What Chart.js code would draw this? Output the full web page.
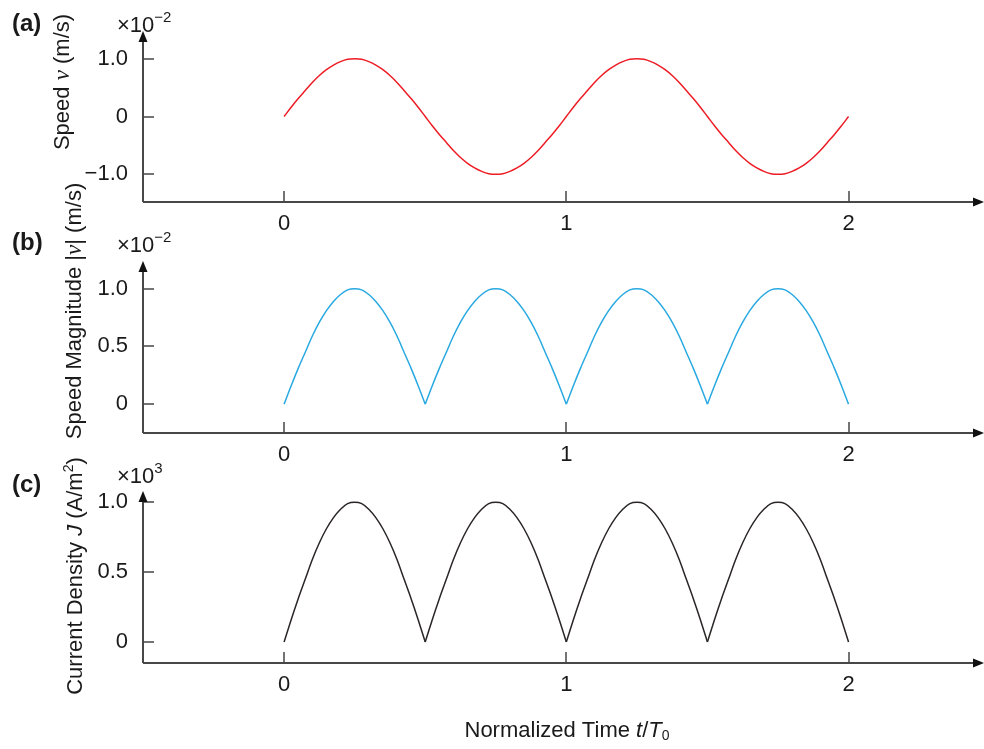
<!DOCTYPE html>
<html>
<head>
<meta charset="utf-8">
<script src="https://cdn.jsdelivr.net/npm/chart.js@4.4.0/dist/chart.umd.min.js"></script>
<style>
  html, body { margin: 0; padding: 0; background: #fff; }
  #wrap { position: relative; width: 984px; height: 749px; }
  #wrap canvas { position: absolute; left: 0; top: 0; }
</style>
</head>
<body>
<div id="wrap">
  <canvas id="chartA" width="984" height="749"></canvas>
  <canvas id="chartB" width="984" height="749"></canvas>
  <canvas id="chartC" width="984" height="749"></canvas>
</div>
<script>
// normalized time t/T0
var time = [
  0, 0.025, 0.05, 0.075, 0.1, 0.125, 0.15, 0.175, 0.2, 0.225,
  0.25, 0.275, 0.3, 0.325, 0.35, 0.375, 0.4, 0.425, 0.45, 0.475,
  0.5, 0.525, 0.55, 0.575, 0.6, 0.625, 0.65, 0.675, 0.7, 0.725,
  0.75, 0.775, 0.8, 0.825, 0.85, 0.875, 0.9, 0.925, 0.95, 0.975,
  1, 1.025, 1.05, 1.075, 1.1, 1.125, 1.15, 1.175, 1.2, 1.225,
  1.25, 1.275, 1.3, 1.325, 1.35, 1.375, 1.4, 1.425, 1.45, 1.475,
  1.5, 1.525, 1.55, 1.575, 1.6, 1.625, 1.65, 1.675, 1.7, 1.725,
  1.75, 1.775, 1.8, 1.825, 1.85, 1.875, 1.9, 1.925, 1.95, 1.975,
  2
];
// speed v (x10^-2 m/s)
var speed = [
  0, 0.16, 0.31, 0.45, 0.59, 0.71, 0.81, 0.89, 0.95, 0.99,
  1.00, 0.99, 0.95, 0.89, 0.81, 0.71, 0.59, 0.45, 0.31, 0.16,
  0, -0.16, -0.31, -0.45, -0.59, -0.71, -0.81, -0.89, -0.95, -0.99,
  -1.00, -0.99, -0.95, -0.89, -0.81, -0.71, -0.59, -0.45, -0.31, -0.16,
  0, 0.16, 0.31, 0.45, 0.59, 0.71, 0.81, 0.89, 0.95, 0.99,
  1.00, 0.99, 0.95, 0.89, 0.81, 0.71, 0.59, 0.45, 0.31, 0.16,
  0, -0.16, -0.31, -0.45, -0.59, -0.71, -0.81, -0.89, -0.95, -0.99,
  -1.00, -0.99, -0.95, -0.89, -0.81, -0.71, -0.59, -0.45, -0.31, -0.16,
  0
];
// speed magnitude |v| (x10^-2 m/s)
var speedMag = [
  0, 0.16, 0.31, 0.45, 0.59, 0.71, 0.81, 0.89, 0.95, 0.99,
  1.00, 0.99, 0.95, 0.89, 0.81, 0.71, 0.59, 0.45, 0.31, 0.16,
  0, 0.16, 0.31, 0.45, 0.59, 0.71, 0.81, 0.89, 0.95, 0.99,
  1.00, 0.99, 0.95, 0.89, 0.81, 0.71, 0.59, 0.45, 0.31, 0.16,
  0, 0.16, 0.31, 0.45, 0.59, 0.71, 0.81, 0.89, 0.95, 0.99,
  1.00, 0.99, 0.95, 0.89, 0.81, 0.71, 0.59, 0.45, 0.31, 0.16,
  0, 0.16, 0.31, 0.45, 0.59, 0.71, 0.81, 0.89, 0.95, 0.99,
  1.00, 0.99, 0.95, 0.89, 0.81, 0.71, 0.59, 0.45, 0.31, 0.16,
  0
];
// current density J (x10^3 A/m^2)
var current = [
  0, 0.16, 0.31, 0.45, 0.59, 0.71, 0.81, 0.89, 0.95, 0.99,
  1.00, 0.99, 0.95, 0.89, 0.81, 0.71, 0.59, 0.45, 0.31, 0.16,
  0, 0.16, 0.31, 0.45, 0.59, 0.71, 0.81, 0.89, 0.95, 0.99,
  1.00, 0.99, 0.95, 0.89, 0.81, 0.71, 0.59, 0.45, 0.31, 0.16,
  0, 0.16, 0.31, 0.45, 0.59, 0.71, 0.81, 0.89, 0.95, 0.99,
  1.00, 0.99, 0.95, 0.89, 0.81, 0.71, 0.59, 0.45, 0.31, 0.16,
  0, 0.16, 0.31, 0.45, 0.59, 0.71, 0.81, 0.89, 0.95, 0.99,
  1.00, 0.99, 0.95, 0.89, 0.81, 0.71, 0.59, 0.45, 0.31, 0.16,
  0
];
var xTicks = [0, 1, 2];
var speedTicks = [-1, 0, 1];
var magTicks = [0, 0.5, 1];
var currentTicks = [0, 0.5, 1];
// indexes where the rectified curves touch zero (cusps)
var cuspIdx = [0, 20, 40, 60, 80];

var SANS = "'Liberation Sans', Arial, Helvetica, sans-serif";
var AXIS_COLOR = '#474747';
var TEXT_COLOR = '#1a1a1a';

// draw a run of text pieces with different fonts, starting at x (or centered)
function drawParts(ctx, parts, x, y, align) {
  var total = 0;
  parts.forEach(function (p) { ctx.font = p.font; total += ctx.measureText(p.text).width; });
  var cx = align === 'center' ? x - total / 2 : x;
  parts.forEach(function (p) {
    ctx.font = p.font;
    ctx.fillText(p.text, cx, y + (p.dy || 0));
    cx += ctx.measureText(p.text).width;
  });
}

var axesPlugin = {
  id: 'arrowAxes',
  afterDraw: function (chart) {
    var ctx = chart.ctx, a = chart.chartArea;
    var xs = chart.scales.x, ys = chart.scales.y;
    var left = Math.round(a.left), bottom = Math.round(a.bottom);
    ctx.save();
    ctx.strokeStyle = AXIS_COLOR;
    ctx.lineWidth = 2;
    ctx.beginPath();
    ctx.moveTo(left, bottom);
    ctx.lineTo(left, a.top + 6);
    ctx.moveTo(left, bottom);
    ctx.lineTo(a.right - 6, bottom);
    ctx.stroke();
    ctx.lineWidth = 1.5;
    ctx.beginPath();
    ys.ticks.forEach(function (t) {
      var py = Math.round(ys.getPixelForValue(t.value));
      ctx.moveTo(left, py);
      ctx.lineTo(left + 11, py);
    });
    xs.ticks.forEach(function (t) {
      var px = Math.round(xs.getPixelForValue(t.value));
      ctx.moveTo(px, bottom);
      ctx.lineTo(px, bottom - 11);
    });
    ctx.stroke();
    ctx.fillStyle = '#111';
    ctx.beginPath();
    ctx.moveTo(left, a.top);
    ctx.lineTo(left - 4.5, a.top + 11);
    ctx.lineTo(left + 4.5, a.top + 11);
    ctx.closePath();
    ctx.fill();
    ctx.beginPath();
    ctx.moveTo(a.right, bottom);
    ctx.lineTo(a.right - 11, bottom - 4.5);
    ctx.lineTo(a.right - 11, bottom + 4.5);
    ctx.closePath();
    ctx.fill();
    ctx.restore();
  }
};

var textPlugin = {
  id: 'panelText',
  afterDraw: function (chart) {
    var o = chart.options.plugins.panelText;
    var ctx = chart.ctx;
    ctx.save();
    ctx.fillStyle = TEXT_COLOR;
    ctx.textBaseline = 'alphabetic';
    ctx.textAlign = 'left';
    ctx.font = 'bold 24px ' + SANS;
    ctx.fillText(o.label, 12, o.labelY);
    drawParts(ctx, [
      { text: '×10', font: '22px ' + SANS },
      { text: o.exp, font: '15px ' + SANS, dy: -10 }
    ], 117, o.multY, 'left');
    ctx.translate(o.titleX, o.titleY);
    ctx.rotate(-Math.PI / 2);
    drawParts(ctx, o.title, 0, 0, 'center');
    ctx.restore();
    if (o.xTitle) {
      ctx.save();
      ctx.fillStyle = TEXT_COLOR;
      ctx.textBaseline = 'alphabetic';
      ctx.textAlign = 'left';
      drawParts(ctx, o.xTitle, 567, 737, 'center');
      ctx.restore();
    }
  }
};

function fmt(v) {
  if (v === 0) return '0';
  return (v < 0 ? '\u2212' : '') + Math.abs(v).toFixed(1);
}

function points(vals, from, to) {
  var pts = [];
  for (var i = from; i <= to; i++) pts.push({ x: time[i], y: vals[i] });
  return pts;
}

function lineSet(pts, color) {
  return {
    data: pts,
    borderColor: color,
    borderWidth: 1.5,
    pointRadius: 0,
    cubicInterpolationMode: 'monotone',
    fill: false
  };
}

function makePanel(id, vals, yTicks, cfg) {
  var sets = [];
  if (cfg.rectified) {
    // each arch on its own so the cusps at zero stay sharp
    for (var k = 0; k < cuspIdx.length - 1; k++) {
      sets.push(lineSet(points(vals, cuspIdx[k], cuspIdx[k + 1]), cfg.color));
    }
  } else {
    sets.push(lineSet(points(vals, 0, time.length - 1), cfg.color));
  }
  return new Chart(document.getElementById(id), {
    type: 'line',
    data: { datasets: sets },
    options: {
      responsive: false,
      animation: false,
      events: [],
      layout: { padding: { left: 0, right: 0, top: cfg.top, bottom: 749 - cfg.bottom - 40 } },
      plugins: {
        legend: { display: false },
        tooltip: { enabled: false },
        panelText: cfg.text
      },
      scales: {
        x: {
          type: 'linear',
          min: -0.5,
          max: 2.48,
          afterBuildTicks: function (s) { s.ticks = xTicks.map(function (v) { return { value: v }; }); },
          afterFit: function (s) { s.height = 40; },
          grid: { display: false, drawTicks: false, tickLength: 0 },
          border: { display: false },
          ticks: { font: { family: SANS, size: 22 }, color: TEXT_COLOR, padding: 9, maxRotation: 0 }
        },
        y: {
          type: 'linear',
          min: cfg.yMin,
          max: cfg.yMax,
          afterBuildTicks: function (s) { s.ticks = yTicks.map(function (v) { return { value: v }; }); },
          afterFit: function (s) { s.width = 143; },
          grid: { display: false, drawTicks: false, tickLength: 0 },
          border: { display: false },
          ticks: { font: { family: SANS, size: 22 }, color: TEXT_COLOR, padding: 15, callback: fmt }
        }
      }
    },
    plugins: [axesPlugin, textPlugin]
  });
}

var f22 = '22px ' + SANS;
var nu = 'italic 23px "Liberation Serif", "Times New Roman", serif';
var it22 = 'italic 22px ' + SANS;

makePanel('chartA', speed, speedTicks, {
  color: '#ed1c24', top: 31, bottom: 202, yMin: -1.48, yMax: 1.48,
  text: {
    label: '(a)', labelY: 31, exp: '\u22122', multY: 32,
    titleX: 69, titleY: 82,
    title: [{ text: 'Speed ', font: f22 }, { text: 'ν', font: nu }, { text: ' (m/s)', font: f22 }]
  }
});
makePanel('chartB', speedMag, magTicks, {
  color: '#29a9e1', top: 261, bottom: 433, yMin: -0.25, yMax: 1.24, rectified: true,
  text: {
    label: '(b)', labelY: 250, exp: '\u22122', multY: 252,
    titleX: 81, titleY: 311,
    title: [{ text: 'Speed Magnitude |', font: f22 }, { text: 'ν', font: nu }, { text: '| (m/s)', font: f22 }]
  }
});
makePanel('chartC', current, currentTicks, {
  color: '#2b2626', top: 491, bottom: 663, yMin: -0.15, yMax: 1.08, rectified: true,
  text: {
    label: '(c)', labelY: 492, exp: '3', multY: 483,
    titleX: 82, titleY: 576,
    title: [
      { text: 'Current Density ', font: f22 }, { text: 'J', font: it22 },
      { text: ' (A/m', font: f22 }, { text: '2', font: '14px ' + SANS, dy: -9 }, { text: ')', font: f22 }
    ],
    xTitle: [
      { text: 'Normalized Time ', font: f22 }, { text: 't', font: it22 }, { text: '/', font: f22 },
      { text: 'T', font: it22 }, { text: '0', font: '14px ' + SANS, dy: 3 }
    ]
  }
});
</script>
</body>
</html>
